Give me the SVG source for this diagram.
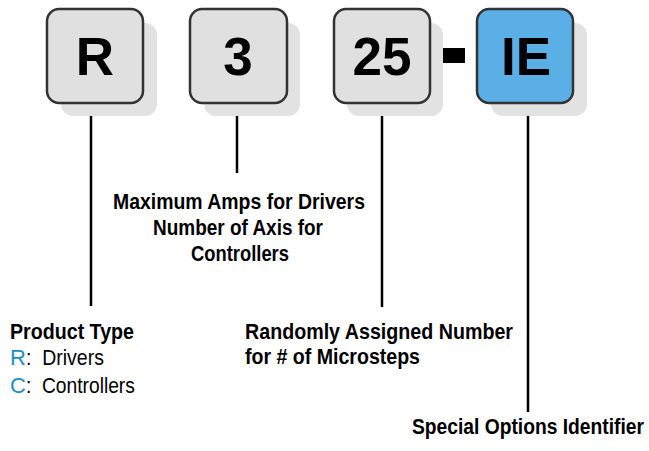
<svg xmlns="http://www.w3.org/2000/svg" width="649" height="451" viewBox="0 0 649 451">
<style>
.shadow{fill:#e2e2e2;}
.box{fill:#e0e0e0;stroke:#333;stroke-width:2.5;}
.blue{fill:#5aafe6;}
.big{font-family:"Liberation Sans",Arial,sans-serif;font-weight:bold;font-size:53px;fill:#000;text-anchor:middle;}
.lbl{font-family:"Liberation Sans",Arial,sans-serif;font-size:22px;fill:#000;}
.b{font-weight:bold;}
.c{fill:#1b8fc4;}
.conn line{stroke:#000;stroke-width:2.5;}
</style>
<g class="conn">
<line x1="91" y1="103" x2="91" y2="306"/>
<line x1="237" y1="103" x2="237" y2="173"/>
<line x1="382" y1="103" x2="382" y2="307"/>
<line x1="528" y1="103" x2="528" y2="412"/>
</g>
<g id="node-R">
<rect class="shadow" x="61" y="23" width="96" height="93" rx="12"/>
<rect class="box" x="47" y="9" width="96" height="94" rx="12"/>
<text class="big" x="95" y="75">R</text>
</g>
<g id="node-3">
<rect class="shadow" x="204" y="23" width="96" height="93" rx="12"/>
<rect class="box" x="190" y="9" width="97" height="94" rx="12"/>
<text class="big" x="238" y="75">3</text>
</g>
<g id="node-25">
<rect class="shadow" x="347" y="23" width="96" height="93" rx="12"/>
<rect class="box" x="334" y="9" width="96" height="94" rx="12"/>
<text class="big" x="382" y="75">25</text>
</g>
<g id="dash">
<rect x="443" y="48" width="22" height="15" fill="#000"/>
</g>
<g id="node-IE">
<rect class="shadow" x="491" y="23" width="96" height="93" rx="12"/>
<rect class="box blue" x="477" y="9" width="96" height="94" rx="12"/>
<text class="big" x="526" y="75">IE</text>
</g>
<g id="label-product">
<text class="lbl b" x="10" y="339" textLength="124" lengthAdjust="spacingAndGlyphs">Product Type</text>
<text class="lbl" x="10" y="365"><tspan class="c">R</tspan><tspan textLength="78" lengthAdjust="spacingAndGlyphs" xml:space="preserve">:  Drivers</tspan></text>
<text class="lbl" x="10" y="393"><tspan class="c">C</tspan><tspan textLength="109" lengthAdjust="spacingAndGlyphs" xml:space="preserve">:  Controllers</tspan></text>
</g>
<g id="label-amps">
<text class="lbl b" x="113" y="209" textLength="252" lengthAdjust="spacingAndGlyphs">Maximum Amps for Drivers</text>
<text class="lbl b" x="153" y="235" textLength="170" lengthAdjust="spacingAndGlyphs">Number of Axis for</text>
<text class="lbl b" x="191" y="261" textLength="98" lengthAdjust="spacingAndGlyphs">Controllers</text>
</g>
<g id="label-random">
<text class="lbl b" x="245" y="339" textLength="268" lengthAdjust="spacingAndGlyphs">Randomly Assigned Number</text>
<text class="lbl b" x="245" y="364" textLength="175" lengthAdjust="spacingAndGlyphs">for # of Microsteps</text>
</g>
<g id="label-special">
<text class="lbl b" x="0" y="0" transform="translate(412,434) scale(0.875,1)">Special Options Identifier</text>
</g>
</svg>
